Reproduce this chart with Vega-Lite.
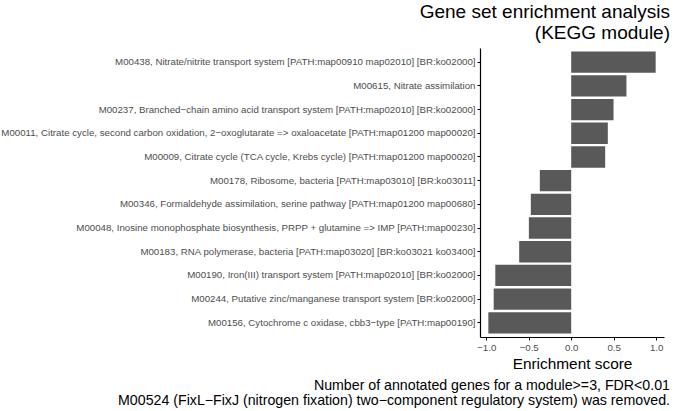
{
  "$schema": "https://vega.github.io/schema/vega-lite/v6.json",
  "padding": {"top": 3, "left": 0, "right": 5, "bottom": 0},
  "background": "white",
  "config": {
    "font": "Liberation Sans",
    "view": {"stroke": null},
    "concat": {"spacing": 0}
  },
  "title": {
    "text": ["Gene set enrichment analysis", "(KEGG module)"],
    "anchor": "end",
    "frame": "group",
    "fontSize": 19,
    "fontWeight": "normal",
    "color": "black",
    "lineHeight": 21,
    "dx": 6,
    "offset": 5
  },
  "vconcat": [
    {
      "width": 184,
      "height": 289,
      "title": {
        "text": ["Number of annotated genes for a module>=3, FDR<0.01", "M00524 (FixL−FixJ (nitrogen fixation) two−component regulatory system) was removed."],
        "orient": "bottom",
        "anchor": "end",
        "frame": "group",
        "fontSize": 14.2,
        "fontWeight": "normal",
        "color": "black",
        "lineHeight": 14.5,
        "dx": 6,
        "offset": 7
      },
      "data": {
        "values": [
          {"module": "M00438, Nitrate/nitrite transport system [PATH:map00910 map02010] [BR:ko02000]", "score": 0.994},
          {"module": "M00615, Nitrate assimilation", "score": 0.65},
          {"module": "M00237, Branched−chain amino acid transport system [PATH:map02010] [BR:ko02000]", "score": 0.498},
          {"module": "M00011, Citrate cycle, second carbon oxidation, 2−oxoglutarate => oxaloacetate [PATH:map01200 map00020]", "score": 0.431},
          {"module": "M00009, Citrate cycle (TCA cycle, Krebs cycle) [PATH:map01200 map00020]", "score": 0.40},
          {"module": "M00178, Ribosome, bacteria [PATH:map03010] [BR:ko03011]", "score": -0.369},
          {"module": "M00346, Formaldehyde assimilation, serine pathway [PATH:map01200 map00680]", "score": -0.475},
          {"module": "M00048, Inosine monophosphate biosynthesis, PRPP + glutamine => IMP [PATH:map00230]", "score": -0.498},
          {"module": "M00183, RNA polymerase, bacteria [PATH:map03020] [BR:ko03021 ko03400]", "score": -0.612},
          {"module": "M00190, Iron(III) transport system [PATH:map02010] [BR:ko02000]", "score": -0.893},
          {"module": "M00244, Putative zinc/manganese transport system [BR:ko02000]", "score": -0.912},
          {"module": "M00156, Cytochrome c oxidase, cbb3−type [PATH:map00190]", "score": -0.975}
        ]
      },
      "mark": {"type": "bar", "color": "#595959"},
      "encoding": {
        "y": {
          "field": "module",
          "type": "nominal",
          "sort": null,
          "scale": {"paddingInner": 0.1, "paddingOuter": 0.15},
          "axis": {
            "title": null,
            "labelFontSize": 9.7,
            "labelColor": "#4D4D4D",
            "labelPadding": 2,
            "labelLimit": 1000,
            "tickSize": 3,
            "tickColor": "black",
            "domainColor": "black",
            "domainWidth": 1.2,
            "grid": false
          }
        },
        "x": {
          "field": "score",
          "type": "quantitative",
          "scale": {"domain": [-1.073, 1.092], "nice": false, "zero": false},
          "axis": {
            "title": "Enrichment score",
            "titleFontSize": 15.4,
            "titleFontWeight": "normal",
            "titleColor": "black",
            "titlePadding": 5,
            "values": [-1, -0.5, 0, 0.5, 1],
            "format": ".1f",
            "labelFontSize": 9.7,
            "labelColor": "#4D4D4D",
            "labelPadding": 2,
            "tickSize": 3,
            "tickColor": "black",
            "domainColor": "black",
            "domainWidth": 1.2,
            "grid": false
          }
        }
      }
    }
  ]
}
